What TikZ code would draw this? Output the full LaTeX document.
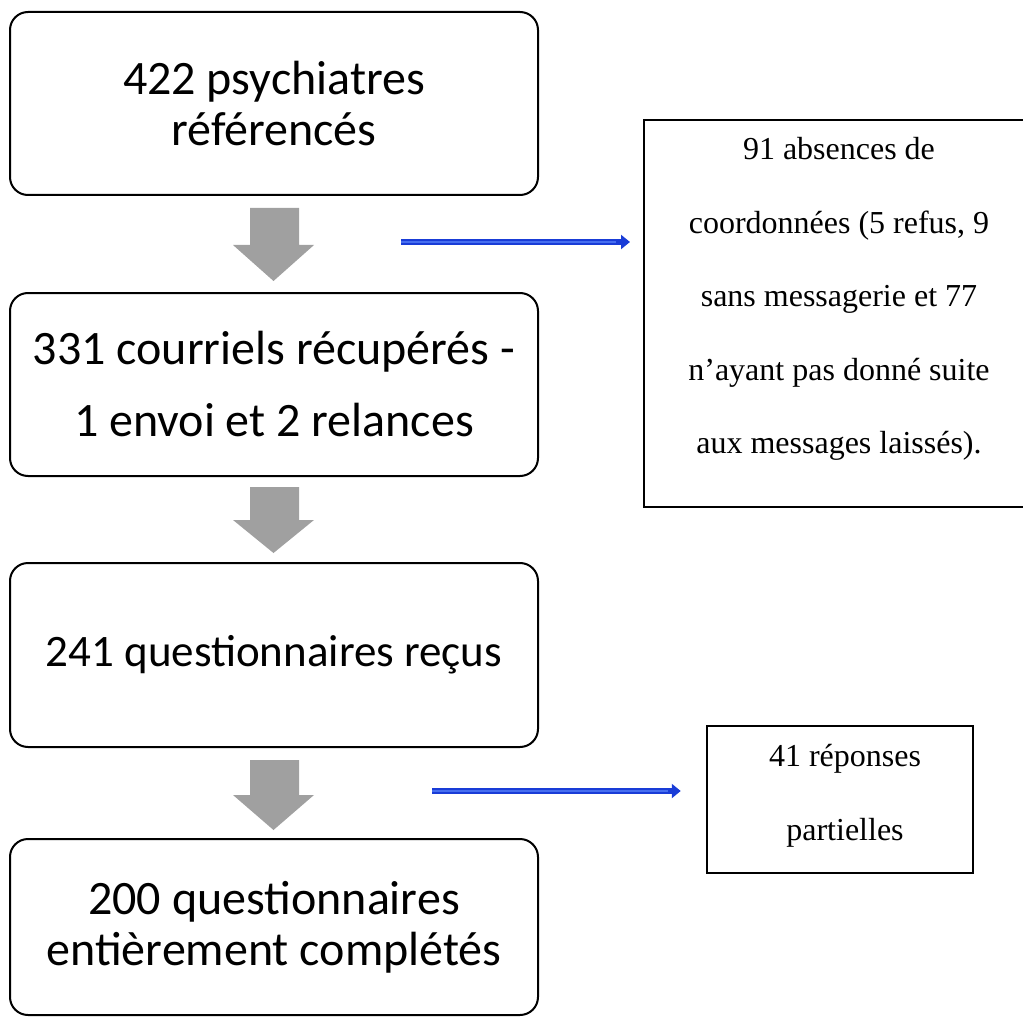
\documentclass[tikz,border=0pt]{standalone}
\usepackage{fontspec}
\setmainfont{Liberation Serif}
\newfontfamily\stagefont{Carlito}
\usetikzlibrary{positioning}
\usetikzlibrary{arrows.meta}

\definecolor{arrowgray}{RGB}{160,160,160}
\definecolor{linkblue}{RGB}{25,60,215}
\definecolor{linklight}{RGB}{70,110,240}

\tikzset{
  stage/.style={draw, rounded corners=18pt, line width=2pt, minimum width=528pt, align=center, font=\stagefont\fontsize{48}{51}\selectfont},
  note/.style={align=center, font=\fontsize{32}{73.5}\selectfont},
  flowarrow/.style={fill=arrowgray},
  link/.style={draw=linkblue, line width=6pt, -{Triangle[length=9pt,width=14pt]}},
  linkcore/.style={draw=linklight, line width=1.5pt}
}

\begin{document}
\begin{tikzpicture}[x=1pt,y=-1pt]
  \useasboundingbox (0,0) rectangle (1023,1019);

  % etapes
  \node[stage, minimum height=183pt] (psy) at (274,103.5) {422 psychiatres\\référencés};
  \node[stage, minimum height=183pt, font=\stagefont\fontsize{48}{72}\selectfont] (courriels) at (274,384.5) {331 courriels récupérés -\\1 envoi et 2 relances};
  \node[stage, minimum height=184pt, font=\stagefont\fontsize{45}{51}\selectfont] (recus) at (274,655) {241 questionnaires reçus};
  \node[stage, minimum height=176pt] (complets) at (274,927) {200 questionnaires\\entièrement complétés};

  % exclusions
  \node[note] (absences) at (839,299) {91 absences de\\coordonnées (5 refus, 9\\sans messagerie et 77\\n’ayant pas donné suite\\aux messages laissés).};
  \draw[line width=2.5pt] (1023,120) -| (644,507) -- (1023,507);
  \node[note, draw, line width=2.5pt, minimum width=266pt, minimum height=147pt] (partielles) at (840,799.5) {};
  \node[note] (partiellestxt) at (845,796) {41 réponses\\partielles};

  % fleches grises
  \fill[flowarrow] (250,208) -- (299,208) -- (299,245) -- (314,245) -- (273.5,281) -- (233,245) -- (250,245) -- cycle;
  \fill[flowarrow] (250,487) -- (299,487) -- (299,520) -- (314,520) -- (273.5,553) -- (233,520) -- (250,520) -- cycle;
  \fill[flowarrow] (250,760) -- (299,760) -- (299,795) -- (314,795) -- (273.5,830) -- (233,795) -- (250,795) -- cycle;

  % fleches bleues
  \coordinate (l1) at (401,242);
  \coordinate (l2) at (432,791);
  \draw[link, shorten >=14pt] (l1) -- (644,242);
  \draw[linkcore] (l1) -- ++(215,0);
  \draw[link, shorten >=25pt] (l2) -- (partielles.west |- l2);
  \draw[linkcore] (l2) -- ++(236,0);
\end{tikzpicture}
\end{document}
